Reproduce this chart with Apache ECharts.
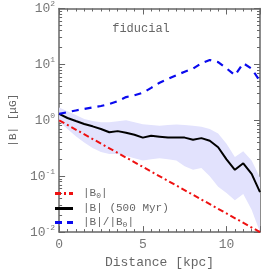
<!DOCTYPE html>
<html><head><meta charset="utf-8">
<script src="https://cdn.jsdelivr.net/npm/echarts@6/dist/echarts.min.js"></script>
<style>html,body{margin:0;padding:0;background:#fff}#c{width:274px;height:274px}</style>
</head><body><div id="c"></div>
<script>
const distance = [0,0.5,1,1.5,2,2.5,3,3.5,4,4.5,5,5.5,6,6.5,7,7.5,8,8.5,9,9.5,10,10.5,11,11.5,12];
const bField = [1.3,1.1,0.97,0.86,0.78,0.70,0.61,0.64,0.60,0.55,0.49,0.53,0.51,0.49,0.49,0.49,0.45,0.48,0.43,0.33,0.20,0.13,0.17,0.11,0.052];
const bUpper = [1.7,1.45,1.25,1.05,0.97,0.92,0.92,0.96,1.0,0.92,0.85,0.82,0.80,0.82,0.84,0.82,0.80,0.77,0.70,0.58,0.38,0.22,0.28,0.19,0.095];
const bLower = [0.95,0.70,0.52,0.40,0.32,0.27,0.25,0.25,0.23,0.21,0.19,0.20,0.21,0.20,0.19,0.15,0.13,0.14,0.10,0.065,0.05,0.037,0.048,0.025,0.01];
const ratio = [1.3,1.4,1.5,1.6,1.7,1.8,1.95,2.2,2.6,2.8,3.1,3.8,4.7,5.5,6.4,7.4,8.4,10.5,12.0,11.0,8.5,6.4,10.5,8.4,5.0];
const b0Dist = [0,12];
const b0Field = [1.0,0.01];
const yMajor = [0.01,0.1,1,10,100];
const yLabels = ['10{s|-2}','10{s|-1}','10{s|0}','10{s|1}','10{s|2}'];

const FONT = 'Liberation Mono';
const GREY = '#666';
const minors = [];
for (let e=-2;e<2;e++) for (let k=2;k<10;k++) minors.push(+(k*Math.pow(10,e)).toPrecision(3));

const pair = (xs, ys) => xs.map((x,i)=>[x, ys[i]]);

function yAx(pos, major, labels){
  return {type:'log', logBase:10, min:0.01, max:100, position:pos,
    axisLine:{show:major, lineStyle:{color:GREY,width:1.5}},
    axisTick:{show:true, inside:true, length: major?6:3, customValues: major?yMajor:minors, lineStyle:{color:GREY,width:1}},
    axisLabel:{show:labels, customValues: yMajor, margin:4, fontFamily:FONT, fontSize:13, color:'#777',
      formatter:(v)=>yLabels[Math.round(Math.log10(v))+2],
      rich:{s:{fontFamily:FONT,fontSize:8,color:'#777',verticalAlign:'top',padding:[0,0,9,0]}}},
    splitLine:{show:false}, minorTick:{show:false},
    name: labels?'|B| [μG]':'', nameLocation:'middle', nameGap:33,
    nameTextStyle:{fontFamily:FONT,fontSize:11,color:GREY}};
}
function xAx(pos, labels){
  return {type:'value', min:0, max:12, interval:5, position:pos,
    axisLine:{show:true, onZero:false, lineStyle:{color:GREY,width:1.5}},
    axisTick:{show:true, inside:true, length:6, lineStyle:{color:GREY}},
    minorTick:{show:true, splitNumber:10, length:3, lineStyle:{color:GREY}},
    axisLabel:{show:labels, fontFamily:FONT, fontSize:13, color:'#777', margin:6,
      formatter:(v)=> (v===0||v===5||v===10)? String(v):''},
    splitLine:{show:false},
    name: labels?'Distance [kpc]':'', nameLocation:'middle', nameGap:21,
    nameTextStyle:{fontFamily:FONT,fontSize:13,color:GREY}};
}

const chart = echarts.init(document.getElementById('c'), null, {renderer:'canvas'});
chart.setOption({
  animation:false,
  grid:{left:41,right:14,top:8,bottom:34},
  title:{text:'fiducial', left:136, top:18, textAlign:'center',
    textStyle:{fontFamily:FONT,fontSize:12,fontWeight:'normal',color:GREY}},
  xAxis:[xAx('bottom',true), xAx('top',false)],
  yAxis:[yAx('left',true,true), yAx('left',false,false), yAx('right',true,false), yAx('right',false,false)],
  legend:{orient:'vertical', left:50, top:183, itemWidth:18, itemHeight:3, itemGap:3,
    data:[
      {name:'|B0|', icon:'path://M0,0h6v3h-6zM9,0h2v3h-2zM14,0h4v3h-4z', itemStyle:{color:'#ee1111'}},
      {name:'|B| (500 Myr)', icon:'path://M0,0h18v3h-18z', itemStyle:{color:'#000'}},
      {name:'|B|/|B0|', icon:'path://M0,0h7v3h-7zM12,0h6v3h-6z', itemStyle:{color:'#0a0aee'}}
    ],
    formatter:(n)=> n==='|B0|' ? '|B{s|0}|' : (n==='|B|/|B0|' ? '|B|/|B{s|0}|' : n),
    textStyle:{fontFamily:FONT,fontSize:11,color:GREY,padding:[0,0,0,5],
      rich:{s:{fontFamily:FONT,fontSize:8,color:GREY,verticalAlign:'bottom',padding:[5,0,0,0]}}}},
  series:[
    {name:'band', type:'custom', data:[0], clip:true, silent:true, z:1,
      renderItem:(params, api)=>{
        const up = distance.map((d,i)=>api.coord([d,bUpper[i]]));
        const lo = distance.map((d,i)=>api.coord([d,bLower[i]])).reverse();
        return {type:'polygon', shape:{points:up.concat(lo)}, style:{fill:'#e2e2fd'}};
      }},
    {name:'|B0|', type:'line', data:pair(b0Dist,b0Field), symbol:'none', z:3,
      lineStyle:{color:'#ee1111',width:2,type:[6,3,2,3]}, itemStyle:{color:'#ee1111'}},
    {name:'|B| (500 Myr)', type:'line', data:pair(distance,bField), symbol:'none', z:4,
      lineStyle:{color:'#000',width:2}, itemStyle:{color:'#000'}},
    {name:'|B|/|B0|', type:'line', data:pair(distance,ratio), symbol:'none', z:5,
      lineStyle:{color:'#0a0aee',width:2.2,type:[7,6]}, itemStyle:{color:'#0a0aee'}}
  ]
});
</script></body></html>
